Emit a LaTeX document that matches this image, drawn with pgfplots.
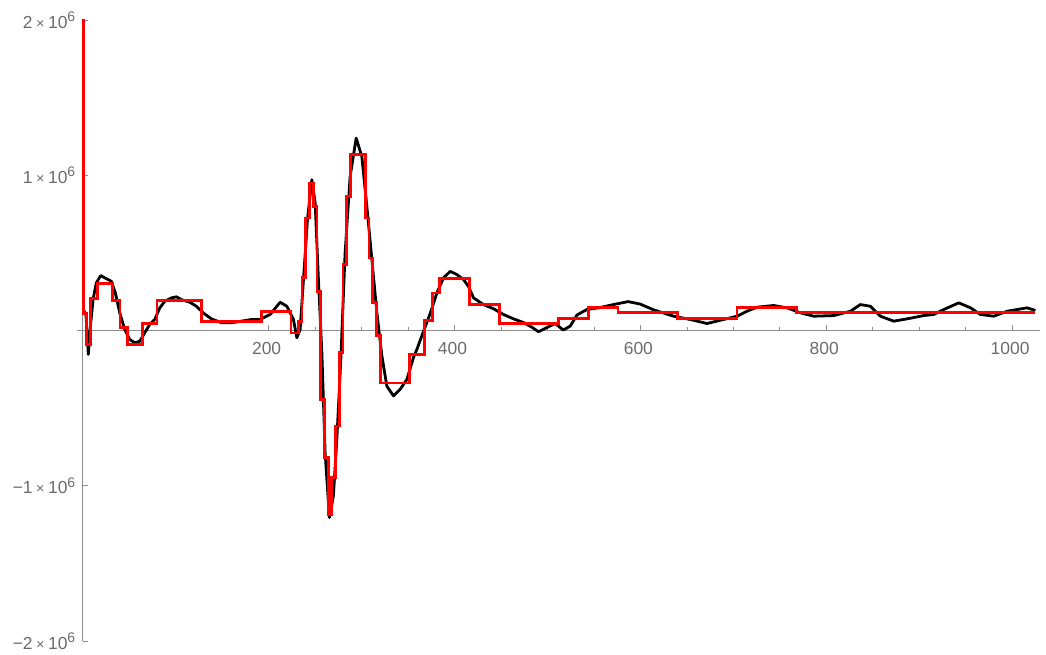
\documentclass[border=0pt]{standalone}
\usepackage{fontspec}
\setmainfont{Liberation Sans}
\usepackage{pgfplots}
\pgfplotsset{compat=1.18}
\definecolor{axgray}{gray}{0.55}
\definecolor{txtgray}{gray}{0.42}
\newcommand{\tm}{\hspace{3.5bp}{\fontsize{14.5}{15}\selectfont×}\hspace{3.5bp}}
\newcommand{\sx}{\raisebox{6.5bp}{\fontsize{14}{15}\selectfont 6}}
\begin{document}
\begin{tikzpicture}[x=1bp,y=1bp]
\begin{axis}[
  at={(0,0)}, anchor=south west,
  scale only axis, width=963.3bp, height=621bp,
  xmin=-6.5, xmax=1030, ymin=-2e6, ymax=2e6,
  axis lines=middle,
  axis line style={axgray, line width=0.8bp, -},
  xtick={200,400,600,800,1000},
  xticklabels={200,400,600,800,1000},
  minor x tick num=3,
  ytick={-2e6,-1e6,1e6,2e6},
  yticklabels={−2\tm10\sx,−1\tm10\sx,1\tm10\sx,2\tm10\sx},
  minor y tick num=4,
  tick align=inside,
  major tick length=5bp, minor tick length=3bp,
  every tick/.style={axgray, line width=0.6bp},
  ticklabel style={font=\fontsize{17.5}{19}\selectfont, text=txtgray},
  x tick label style={yshift=-8bp, xshift=-2bp},
  y tick label style={xshift=-4bp},
  scaled ticks=false,
  clip=true,
]
\addplot[black, line width=2.8bp, line join=round] coordinates {
(1,130000) (3.5,100000) (6,-154000) (8.5,40000) (11.1,199000) (14.6,307000)
(19.4,354000) (23.7,339000) (30.8,317000) (35.1,242000) (39.8,114000)
(45.2,6000) (50.6,-58000) (56.0,-79000) (61.4,-69000) (66.7,-15000)
(72.1,39000) (77.5,71000) (82.9,146000) (88.3,188000) (95.4,210000)
(100.8,217000) (106.1,199000) (115.2,182000) (122.3,156000) (129.5,114000)
(138.4,75000) (149.2,50000) (160.0,50000) (170.7,60000) (181.5,71000)
(190.9,71000) (201.6,103000) (212.4,182000) (219.6,156000) (226.7,71000)
(230.4,-47000) (233.9,6000) (237.5,328000) (241.8,714000) (246.5,971000)
(250.1,821000) (253.6,328000) (257.3,-143000) (260.8,-787000) (265.4,-1205000)
(269.7,-1066000) (273.4,-701000) (277.7,-186000) (282.3,500000) (287.7,992000)
(294.2,1239000) (300.3,1121000) (305.7,799000) (311.1,457000) (316.5,114000)
(321.9,-165000) (327.2,-358000) (334.3,-421000) (341.5,-379000) (348.8,-315000)
(355.9,-174000) (359.5,-122000) (366.6,-6000) (373.8,109000) (381.1,242000)
(388.2,339000) (395.4,381000) (402.6,360000) (409.7,328000) (415.1,283000)
(420.5,210000) (431.2,167000) (442.0,140000) (452.7,103000) (463.5,75000)
(474.3,51000) (483.3,21000) (490.4,-8000) (498.7,17000) (508.4,45000)
(517.0,3000) (524.5,28000) (531.8,100000) (542.5,135000) (556.8,148000)
(571.1,167000) (586.9,186000) (599.9,170000) (614.2,133000) (635.7,92000)
(653.6,71000) (671.7,45000) (689.6,71000) (704.0,92000) (714.7,124000)
(725.5,150000) (743.4,161000) (757.8,146000) (772.1,114000) (786.4,92000)
(808.0,96000) (826.0,124000) (836.7,167000) (847.5,156000) (858.3,92000)
(872.6,60000) (887.0,75000) (904.8,96000) (915.6,103000) (926.4,135000)
(942.6,178000) (955.2,146000) (965.9,103000) (980.2,92000) (994.6,124000)
(1016.1,146000) (1025,129000)
};
\addplot[red, line width=2.8bp, const plot mark left, line join=miter] coordinates {
(0,2500000) (1,110000) (4,-90000) (8,204000) (16,302000) (32,195000)
(40,17000) (48,-90000) (64,45000) (80,193000) (128,60000) (192,124000)
(224,-16000) (232,60000) (236,339000) (240,725000) (244,950000) (248,800000)
(252,250000) (256,-444000) (260,-819000) (264,-1183000) (268,-947000)
(272,-615000) (276,-143000) (280,424000) (284,864000) (288,1136000)
(304,725000) (308,467000) (312,178000) (316,-32000) (320,-338000)
(352,-154000) (368,66000) (376,242000) (384,334000) (416,167000)
(448,45000) (512,75000) (544,150000) (576,114000) (640,75000)
(704,150000) (768,114000) (1025,114000)
};
\end{axis}
\pgfresetboundingbox
\path (-76.7,-14) rectangle (969.3,641);
\end{tikzpicture}
\end{document}
